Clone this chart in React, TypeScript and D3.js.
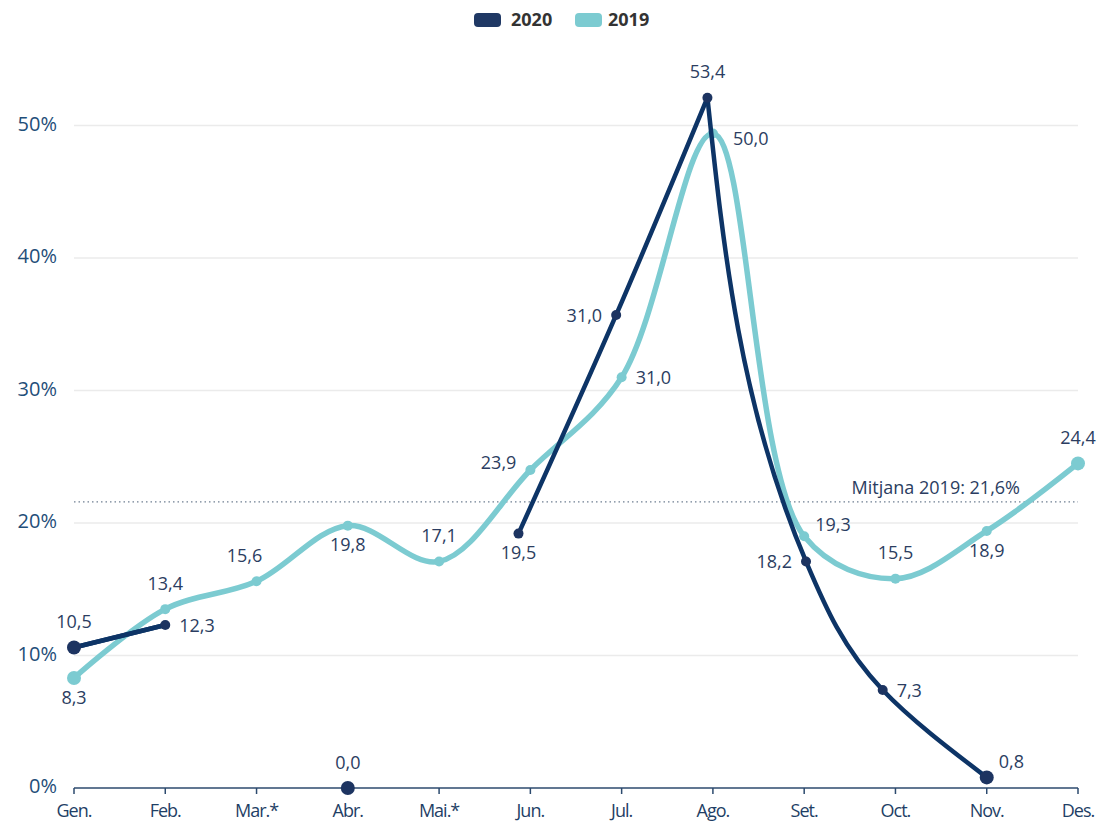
import React from "react";
import { scaleLinear, line, curveCatmullRom, curveMonotoneY } from "d3";

const months = ["Gen.", "Feb.", "Mar.*", "Abr.", "Mai.*", "Jun.", "Jul.", "Ago.", "Set.", "Oct.", "Nov.", "Des."];
const yTicks = [0, 10, 20, 30, 40, 50];

// 2019: plotted value and the printed label
const values2019 = [8.3, 13.5, 15.6, 19.8, 17.1, 24.0, 31.0, 49.4, 19.0, 15.8, 19.4, 24.5];
const labels2019 = ["8,3", "13,4", "15,6", "19,8", "17,1", "23,9", "31,0", "50,0", "19,3", "15,5", "18,9", "24,4"];
const place2019 = ["bottom", "top", "topleft", "bottom", "top", "leftup", "right", "rightdown", "rightup", "top", "bottom", "top"];

// 2020: points sit slightly off the month ticks in the original
const pos2020 = [0, 1, 2, 3, 4, 4.87, 5.94, 6.94, 8.02, 8.86, 10, 11];
const values2020 = [10.6, 12.3, null, 0, null, 19.2, 35.7, 52.1, 17.1, 7.4, 0.8, null];
const labels2020 = ["10,5", "12,3", "", "0,0", "", "19,5", "31,0", "53,4", "18,2", "7,3", "0,8", ""];
const place2020 = ["top", "right", "", "top", "", "bottom", "left", "top", "left", "right", "topright", ""];
const peak2020 = 7; // the 2020 line turns sharply at its peak

const mean2019 = 21.6;

const C2020 = "#0d3466";
const C2019 = "#7ccbd1";
const TEXT = "#2b3d61";
const FONT = "'Open Sans', 'Noto Sans', sans-serif";

const W = 1117;
const H = 824;

type Pt = { x: number; v: number; label: string; place: string; big: boolean };

function offset(place: string) {
  switch (place) {
    case "top": return { dx: 0, dy: -24, anchor: "middle" };
    case "bottom": return { dx: 0, dy: 21, anchor: "middle" };
    case "topleft": return { dx: -12, dy: -24, anchor: "middle" };
    case "topright": return { dx: 12, dy: -14, anchor: "start" };
    case "left": return { dx: -14, dy: 2, anchor: "end" };
    case "leftup": return { dx: -14, dy: -6, anchor: "end" };
    case "rightup": return { dx: 11, dy: -10, anchor: "start" };
    case "rightdown": return { dx: 20, dy: 7, anchor: "start" };
    default: return { dx: 14, dy: 2, anchor: "start" };
  }
}

export default function App() {
  const x = scaleLinear().domain([0, 11]).range([74, 1078]);
  const y = scaleLinear().domain([0, 50]).range([788, 125.5]);

  const pts2019: (Pt | null)[] = values2019.map((v, i) => ({
    x: i, v, label: labels2019[i], place: place2019[i],
    big: i === 0 || i === values2019.length - 1,
  }));
  const pts2020: (Pt | null)[] = values2020.map((v, i) => {
    if (v === null) return null;
    const isolated = values2020[i - 1] == null && values2020[i + 1] == null;
    return {
      x: pos2020[i], v, label: labels2020[i], place: place2020[i],
      big: i === 0 || i === 10 || isolated,
    };
  });

  const line2019 = line<Pt | null>()
    .defined((d) => d !== null)
    .x((d) => x((d as Pt).x))
    .y((d) => y((d as Pt).v))
    .curve(curveCatmullRom.alpha(0.5));

  // 2020 is drawn rising and falling separately, each smoothed along y
  const line2020 = line<Pt | null>()
    .defined((d) => d !== null)
    .x((d) => x((d as Pt).x))
    .y((d) => y((d as Pt).v))
    .curve(curveMonotoneY);

  const pathA2020 = line2020(pts2020.slice(0, peak2020 + 1)) || "";
  const pathB2020 = line2020(pts2020.slice(peak2020)) || "";

  const renderLabels = (pts: (Pt | null)[]) =>
    pts.map((d, i) => {
      if (!d) return null;
      const o = offset(d.place);
      return (
        <text key={i} x={x(d.x) + o.dx} y={y(d.v) + o.dy} textAnchor={o.anchor}
          dominantBaseline="middle" fontSize={18} fill={TEXT}>
          {d.label}
        </text>
      );
    });

  return (
    <svg width={W} height={H} style={{ position: "absolute", left: 0, top: 0, fontFamily: FONT }}>
      {/* legend */}
      <g transform="translate(474,13)">
        <rect x={0} y={0} width={27} height={14} rx={4} fill="#1f3864" />
        <text x={37} y={8} dominantBaseline="middle" fontSize={18} fontWeight={700} fill="#333">2020</text>
        <rect x={101} y={0} width={27} height={14} rx={4} fill={C2019} />
        <text x={134} y={8} dominantBaseline="middle" fontSize={18} fontWeight={700} fill="#333">2019</text>
      </g>

      {/* grid */}
      {yTicks.filter((t) => t > 0).map((t) => (
        <line key={t} x1={x(0)} x2={x(11)} y1={y(t)} y2={y(t)} stroke="#ebebeb" strokeWidth={1.5} />
      ))}
      {yTicks.map((t) => (
        <text key={t} x={57} y={y(t)} textAnchor="end" dominantBaseline="middle" fontSize={20} fill="#1f4e79">
          {t}%
        </text>
      ))}

      {/* x axis */}
      <line x1={x(0)} x2={x(11)} y1={y(0)} y2={y(0)} stroke="#2c4a6e" strokeWidth={1.5} />
      {months.map((m, i) => (
        <g key={m}>
          <line x1={x(i)} x2={x(i)} y1={y(0)} y2={y(0) + 6} stroke="#2c4a6e" strokeWidth={1.5} />
          <text x={x(i)} y={812} textAnchor="middle" dominantBaseline="middle" fontSize={18}
            fill="#1f3f66" letterSpacing={-1}>{m}</text>
        </g>
      ))}

      {/* average */}
      <line x1={x(0)} x2={x(11)} y1={y(mean2019)} y2={y(mean2019)} stroke="#6f7f92"
        strokeWidth={1.2} strokeDasharray="1.5 3" />
      <text x={1020} y={489} textAnchor="end" dominantBaseline="middle" fontSize={18} fill={TEXT}>
        Mitjana 2019: 21,6%
      </text>

      {/* lines */}
      <path d={line2019(pts2019) || ""} fill="none" stroke={C2019} strokeWidth={5.5} strokeLinejoin="round" strokeLinecap="round" />
      {pts2019.map((d, i) => d && (
        <circle key={i} cx={x(d.x)} cy={y(d.v)} r={d.big ? 7 : 5} fill={C2019} />
      ))}
      <path d={line2020(pts2020.slice(0, 2)) || ""} fill="none" stroke={C2020} strokeWidth={4.5} strokeLinecap="round" />
      <path d={pathA2020} fill="none" stroke={C2020} strokeWidth={4.5} strokeLinejoin="round" strokeLinecap="round" />
      <path d={pathB2020} fill="none" stroke={C2020} strokeWidth={4.5} strokeLinejoin="round" strokeLinecap="round" />
      {pts2020.map((d, i) => d && (
        <circle key={i} cx={x(d.x)} cy={y(d.v)} r={d.big ? 7 : 5} fill="#1d3461" />
      ))}

      {renderLabels(pts2019)}
      {renderLabels(pts2020)}
    </svg>
  );
}
